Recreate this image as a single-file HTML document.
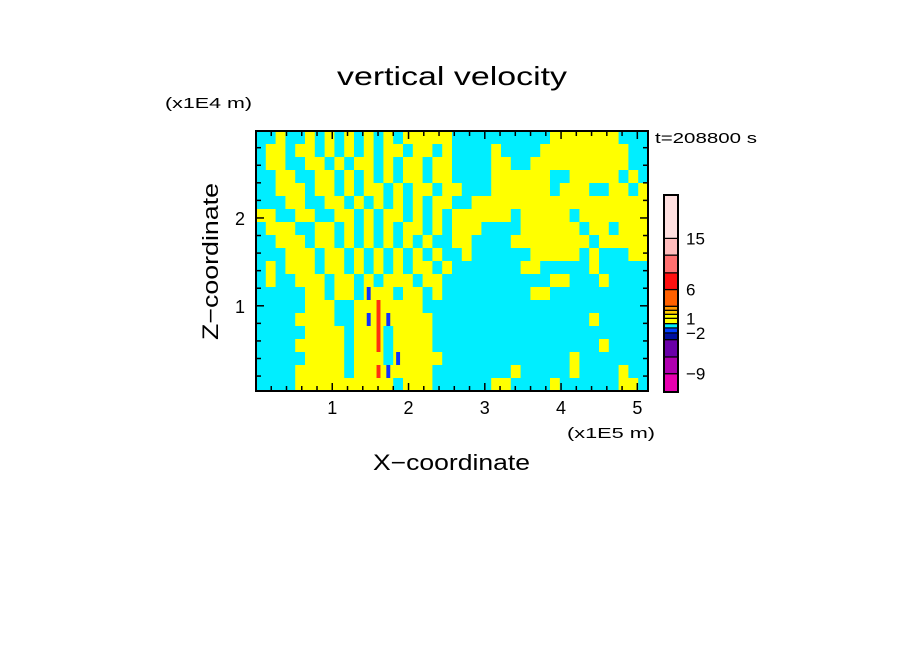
<!DOCTYPE html>
<html><head><meta charset="utf-8"><style>
html,body{margin:0;padding:0;background:#fff;}
svg{display:block;font-family:"Liberation Sans",sans-serif;}
</style></head><body>
<svg id="chart" width="904" height="654" viewBox="0 0 904 654" xmlns="http://www.w3.org/2000/svg">
<rect width="904" height="654" fill="#fff"/>
<text x="337" y="85" font-size="26" textLength="230" lengthAdjust="spacingAndGlyphs">vertical velocity</text>
<text x="165" y="108" font-size="15" textLength="87" lengthAdjust="spacingAndGlyphs">(x1E4 m)</text>
<text x="655" y="143" font-size="15" textLength="102" lengthAdjust="spacingAndGlyphs">t=208800 s</text>
<text x="567" y="438" font-size="15" textLength="88" lengthAdjust="spacingAndGlyphs">(x1E5 m)</text>
<text x="373" y="470" font-size="22" textLength="157" lengthAdjust="spacingAndGlyphs">X−coordinate</text>
<text transform="translate(218,340) rotate(-90)" font-size="22" textLength="157" lengthAdjust="spacingAndGlyphs">Z−coordinate</text>
<g id="field"></g>
<g id="axes"></g>
<g id="cbar"></g>
</svg>
<script>
// field grid (top row = top of domain), y=positive small, c=negative small, r=strong up, b=strong down
const fieldRows = [
"ccyccycycycycycyyyyyccccccccccyyyyyyycccc",
"cyycyycycycycyycyycyccccyccccyyyyyyyyycc",
"cyyccyycycyycycyycyyccccyyccyyyyyyyyyycc",
"ccyyccyycycycycyycyyccccyyyyyyccyyyyycyc",
"ccyyycyycycyycycyycyycccyyyyyycyyyccyycy",
"cccyyccyycycycycycyyccyyyyyyyyyyyyyyyyyy",
"yyccyyccyycycyycycycyyyyyycyyyyycyyyyyyy",
"cyyyccyycycycycyycycyyyccccyyyyyycyycyyy",
"ccyyycyycycycycycyccyyccccyyyyyyyycyyyyy",
"cccyyycyycycycycycyccyccccccyyyyycycccyy",
"cycyyycyycycycycyycycccccccyycccccyccccc",
"cyccyyycyycycyyycyycccccccccccyycccycccc",
"cccccyycyycbyycyycycccccccccyycccccccccc",
"cccccyyyccyyryyyyccccccccccccccccccccccc",
"ccccyyyyccybrbyyyyccccccccccccccccyccccc",
"cccccyyyycyyrcyyyyccccccccccccccccccccc",
"ccccyyyyycyyrcyyyycccccccccccccccccyccc",
"cccccyyyycyyycbyyyycccccccccccccyccccccc",
"ccccyyyyycyyrbyyyyccccccccycccccyccccycc",
"ccccyyyyyyyyyycyyyccccccyyccccyccccccyyc"
];
const fieldColors = {y:"#ffff00", c:"#00eeff", r:"#ff3010", b:"#1030ff"};
const xTicks = [1,2,3,4,5];
const xTickLabels = ["1","2","3","4","5"];
const yTicks = [1,2];
const yTickLabels = ["1","2"];
const xDomain = [0, 5.14];
const yDomain = [0.03, 2.99];
const cbarColors = ["#e800b0","#b000b0","#6a00a8","#0010a0","#0040ff","#00eeff","#ffff00","#ffff00","#ffcc00","#ff9900","#ff6000","#ff1010","#ff7070","#ffbcbc","#ffe0e0"];
const cbarLabelIdx = [0,3,6,10,13];
const cbarLabels = ["−9","−2","1","6","15"];

const NS="http://www.w3.org/2000/svg";
const L=256,R=648,T=131,B=391;
const xs=v=>L+(v-xDomain[0])/(xDomain[1]-xDomain[0])*(R-L);
const ys=v=>B-(v-yDomain[0])/(yDomain[1]-yDomain[0])*(B-T);
function mk(tag,parent,attrs){const e=document.createElementNS(NS,tag);for(const k in attrs)e.setAttribute(k,attrs[k]);parent.appendChild(e);return e;}

const field=document.getElementById('field');
const nr=fieldRows.length, nc=40;
const cw=(R-L)/nc, ch=(B-T)/nr;
fieldRows.forEach((row,i)=>{
  for(let j=0;j<nc;j++){
    const k=row[j]||'c';
    if(k==='r'||k==='b'){
      const bg=mk('rect',field,{x:(L+j*cw).toFixed(2),y:(T+i*ch).toFixed(2),width:(cw+0.6).toFixed(2),height:(ch+0.6).toFixed(2),fill:fieldColors.y});
      
      
      const r=mk('rect',field,{x:(L+j*cw+cw*0.3).toFixed(2),y:(T+i*ch).toFixed(2),width:(cw*0.4).toFixed(2),height:(ch+0.6).toFixed(2),fill:fieldColors[k]});
      
      
      continue;
    }
    const r=mk('rect',field,{x:(L+j*cw).toFixed(2),y:(T+i*ch).toFixed(2),width:(cw+0.6).toFixed(2),height:(ch+0.6).toFixed(2),fill:fieldColors[k]});
    
    
  }
});

const axes=document.getElementById('axes');
const frame=mk('rect',axes,{x:L,y:T,width:R-L,height:B-T,fill:'none',stroke:'#000','stroke-width':2});


for(let v=0.2;v<xDomain[1];v+=0.2){
  const x=xs(v), major=Math.abs(v-Math.round(v))<1e-6, len=major?8:5;
  const t1=mk('line',axes,{x1:x,x2:x,y1:B,y2:B-len,stroke:'#000','stroke-width':1.5});
  
  
  const t2=mk('line',axes,{x1:x,x2:x,y1:T,y2:T+len,stroke:'#000','stroke-width':1.5});
  
  
}
for(let v=0.2;v<yDomain[1];v+=0.2){
  const y=ys(v), major=Math.abs(v-Math.round(v))<1e-6, len=major?8:5;
  const t1=mk('line',axes,{x1:L,x2:L+len,y1:y,y2:y,stroke:'#000','stroke-width':1.5});
  
  
  const t2=mk('line',axes,{x1:R,x2:R-len,y1:y,y2:y,stroke:'#000','stroke-width':1.5});
  
  
}
xTicks.forEach((v,i)=>{
  const t=mk('text',axes,{x:xs(v),y:414,'font-size':18,'text-anchor':'middle'});
  t.textContent=xTickLabels[i];
  
  
});
yTicks.forEach((v,i)=>{
  const t=mk('text',axes,{x:240,y:ys(v)+7,'font-size':18,'text-anchor':'middle'});
  t.textContent=yTickLabels[i];
  
  
});

const cb=document.getElementById('cbar');
const CT=195,CB=392,CL=664,CR=678;
const segW=[18.3,16.7,17.3,6.7,5,4.3,5.3,4,4,4,16.7,16.7,17.7,16.7,43.3];
const tot=segW.reduce((a,b)=>a+b,0);
let acc=0; const segY=[];
cbarColors.forEach((c,i)=>{
  const h=segW[i]/tot*(CB-CT);
  const y=CB-acc-h; segY.push([y,h]); acc+=h;
  const r=mk('rect',cb,{x:CL,y:y.toFixed(2),width:CR-CL,height:h.toFixed(2),fill:c,stroke:'#000','stroke-width':1.2});
  
  
});
const cf=mk('rect',cb,{x:CL,y:CT,width:CR-CL,height:CB-CT,fill:'none',stroke:'#000','stroke-width':2});


cbarLabelIdx.forEach((idx,i)=>{
  const y=segY[idx][0];
  const t=mk('text',cb,{x:686,y:(y+6).toFixed(1),'font-size':17});
  t.textContent=cbarLabels[i];
  
  
});
</script>
</body></html>
